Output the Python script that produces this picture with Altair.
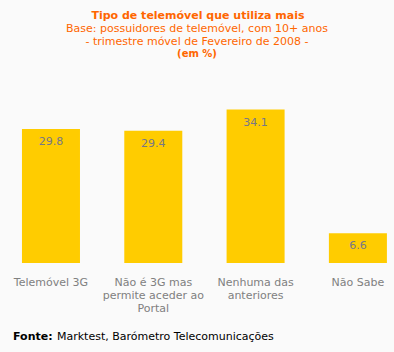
import altair as alt
import pandas as pd

categories = ["Telemóvel 3G", "Não é 3G mas permite aceder ao Portal", "Nenhuma das anteriores", "Não Sabe"]
label_lines = [["Telemóvel 3G"], ["Não é 3G mas", "permite aceder ao", "Portal"], ["Nenhuma das", "anteriores"], ["Não Sabe"]]
values = [29.8, 29.4, 34.1, 6.6]

title_text = "Tipo de telemóvel que utiliza mais"
subtitle_lines = ["Base: possuidores de telemóvel, com 10+ anos", "- trimestre móvel de Fevereiro de 2008 -"]
unit_text = "(em %)"
source_bold = "Fonte:"
source_text = "Marktest, Barómetro Telecomunicações"

df = pd.DataFrame({"cat": categories, "val": values})

FONT = "DejaVu Sans"
ORANGE = "#FF6600"

label_expr = " : ".join(
    [f"datum.value == {c!r} ? {l!r}" for c, l in zip(categories, label_lines)] + ["datum.value"]
)

x = alt.X("cat:N", sort=categories, title=None,
          scale=alt.Scale(paddingInner=0.433, paddingOuter=0.142, align=0.756),
          axis=alt.Axis(labelAngle=0, ticks=False, domain=False, labelColor="#808080",
                        labelFont=FONT, labelFontSize=11, labelLineHeight=13,
                        labelPadding=13, labelExpr=label_expr, labelLimit=200))
y = alt.Y("val:Q", scale=alt.Scale(domain=[0, 40]), axis=None)

bars = alt.Chart(df).mark_bar(color="#FFCC00").encode(x=x, y=y)
labels = alt.Chart(df).mark_text(font=FONT, fontSize=11, color="#777788", baseline="middle", dy=13).encode(
    x=alt.X("cat:N", sort=categories), y="val:Q", text=alt.Text("val:Q", format=".1f"))

hdr = pd.DataFrame({"t": [title_text]})
title_m = alt.Chart(hdr).mark_text(font=FONT, fontSize=11, fontWeight="bold", color=ORANGE, baseline="middle").encode(
    x=alt.value(198), y=alt.value(16 - 83), text="t:N")
sub1 = alt.Chart(pd.DataFrame({"t": [subtitle_lines[0]]})).mark_text(font=FONT, fontSize=11, color=ORANGE, baseline="middle").encode(
    x=alt.value(197), y=alt.value(29 - 83), text="t:N")
sub2 = alt.Chart(pd.DataFrame({"t": [subtitle_lines[1]]})).mark_text(font=FONT, fontSize=11, color=ORANGE, baseline="middle").encode(
    x=alt.value(197), y=alt.value(42 - 83), text="t:N")
unit = alt.Chart(pd.DataFrame({"t": [unit_text]})).mark_text(font=FONT, fontSize=10, fontWeight="bold", color=ORANGE, baseline="middle").encode(
    x=alt.value(197), y=alt.value(54 - 83), text="t:N")
src1 = alt.Chart(pd.DataFrame({"t": [source_bold]})).mark_text(font=FONT, fontSize=11, fontWeight="bold", color="#000000", baseline="middle", align="left").encode(
    x=alt.value(13), y=alt.value(337 - 83), text="t:N")
src2 = alt.Chart(pd.DataFrame({"t": [source_text]})).mark_text(font=FONT, fontSize=11, color="#000000", baseline="middle", align="left").encode(
    x=alt.value(57), y=alt.value(337 - 83), text="t:N")

chart = alt.layer(bars, labels, title_m, sub1, sub2, unit, src1, src2).properties(
    width=394, height=180,
    autosize=alt.AutoSizeParams(type="none"),
    padding={"left": 0, "right": 0, "top": 83, "bottom": 89},
    background="#FAFAFA",
).configure_view(stroke=None)

chart.save("out.html", embed_options={"renderer": "svg", "actions": False})
